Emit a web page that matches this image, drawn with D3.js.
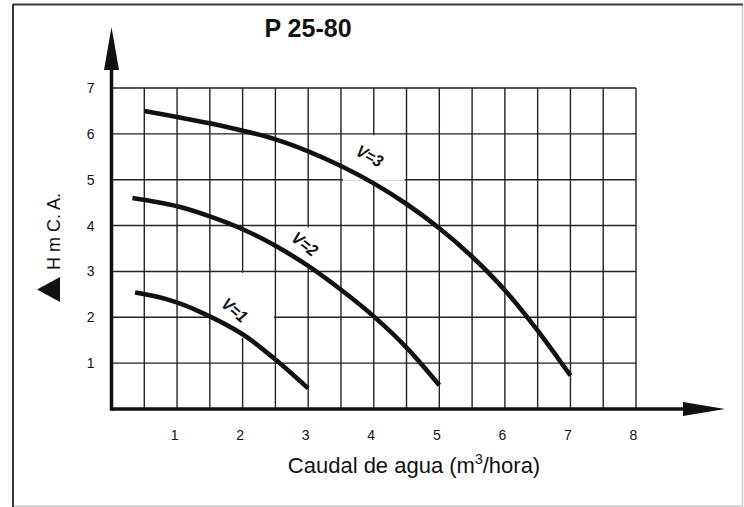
<!DOCTYPE html>
<html>
<head>
<meta charset="utf-8">
<script src="https://cdn.jsdelivr.net/npm/d3@7"></script>
<style>
  html, body { margin: 0; padding: 0; background: #fff; }
  svg { display: block; }
  text { font-family: "Liberation Sans", Arial, sans-serif; fill: #111; }
</style>
</head>
<body>
<svg id="chart" width="744" height="507"></svg>
<script>
// ---- data ----
const title = "P 25-80";
const yTitle = "H m C. A.";
const xTitleMain = "Caudal de agua (m";
const xTitleSup = "3";
const xTitleEnd = "/hora)";
const xTicks = [1, 2, 3, 4, 5, 6, 7, 8];
const yTicks = [1, 2, 3, 4, 5, 6, 7];
const gridX = [0.5, 1, 1.5, 2, 2.5, 3, 3.5, 4, 4.5, 5, 5.5, 6, 6.5, 7, 7.5, 8];
const gridY = [1, 2, 3, 4, 5, 6, 7];
const seriesNames = ["V=1", "V=2", "V=3"];
const v1 = [[0.36, 2.54], [0.85, 2.39], [1.35, 2.12], [2, 1.63], [2.5, 1.08], [3, 0.45]];
const v2 = [[0.32, 4.6], [1, 4.42], [1.5, 4.2], [2, 3.92], [2.5, 3.56], [3, 3.12], [3.5, 2.6], [4, 2.02], [4.5, 1.34], [5, 0.52]];
const v3 = [[0.5, 6.5], [1, 6.37], [1.5, 6.23], [2, 6.07], [2.5, 5.88], [3, 5.62], [3.5, 5.3], [4, 4.92], [4.5, 4.47], [5, 3.94], [5.5, 3.32], [6, 2.59], [6.5, 1.71], [7, 0.73]];

// ---- layout ----
const svg = d3.select("#chart");
const x = d3.scaleLinear().domain([0, 8]).range([111.5, 636]);
const y = d3.scaleLinear().domain([0, 7]).range([409, 88]);

// frame
svg.append("line").attr("x1", 742.5).attr("y1", 4.5).attr("x2", 742.5).attr("y2", 506).attr("stroke", "#c8c8c8").attr("stroke-width", 1.5);
svg.append("line").attr("x1", 13).attr("y1", 506).attr("x2", 743).attr("y2", 506).attr("stroke", "#c8c8c8").attr("stroke-width", 1.5);
svg.append("line").attr("x1", 13).attr("y1", 4.5).attr("x2", 743).attr("y2", 4.5).attr("stroke", "#3a3a3a").attr("stroke-width", 2);
svg.append("line").attr("x1", 13).attr("y1", 4).attr("x2", 13).attr("y2", 507).attr("stroke", "#3a3a3a").attr("stroke-width", 2);

// grid
const grid = svg.append("g").attr("stroke", "#222").attr("stroke-width", 1.4);
grid.selectAll("line.v").data(gridX).join("line").attr("class", "v")
  .attr("x1", d => x(d)).attr("x2", d => x(d)).attr("y1", y(0)).attr("y2", y(7));
grid.selectAll("line.h").data(gridY).join("line").attr("class", "h")
  .attr("x1", x(0)).attr("x2", x(8)).attr("y1", d => y(d)).attr("y2", d => y(d));

// label backgrounds (white patches under the curve labels)
const labels = [
  { name: seriesNames[2], at: [3.94, 5.52], rot: 29, box: [3.53, 4.47, 4.98, 5.97] },
  { name: seriesNames[1], at: [2.95, 3.6], rot: 38, box: [2.54, 3.46, 3.08, 3.96] },
  { name: seriesNames[0], at: [1.88, 2.16], rot: 40, box: [1.54, 2.48, 1.55, 2.97] }
];
svg.append("g").selectAll("rect").data(labels).join("rect")
  .attr("x", d => x(d.box[0])).attr("width", d => x(d.box[1]) - x(d.box[0]))
  .attr("y", d => y(d.box[3])).attr("height", d => y(d.box[2]) - y(d.box[3]))
  .attr("fill", "#fff");

// curves
const line = d3.line().x(d => x(d[0])).y(d => y(d[1])).curve(d3.curveCatmullRom.alpha(0.5));
svg.append("g").selectAll("path").data([v1, v2, v3]).join("path")
  .attr("d", line).attr("fill", "none").attr("stroke", "#111").attr("stroke-width", 4.6);

// curve labels
svg.append("g").selectAll("text").data(labels).join("text")
  .attr("transform", d => `translate(${x(d.at[0])},${y(d.at[1])}) rotate(${d.rot}) scale(0.9,1)`)
  .attr("text-anchor", "middle").attr("dy", "0.35em")
  .attr("font-size", 17).attr("font-weight", "bold").attr("font-style", "italic")
  .text(d => d.name);

// axes lines with arrows
svg.append("line").attr("x1", x(0)).attr("x2", 684).attr("y1", y(0)).attr("y2", y(0))
  .attr("stroke", "#111").attr("stroke-width", 3.5);
svg.append("path").attr("d", `M683,${y(0) - 7} L725,${y(0)} L683,${y(0) + 7} Z`).attr("fill", "#111");
svg.append("line").attr("x1", x(0)).attr("x2", x(0)).attr("y1", y(0) + 1.75).attr("y2", 68)
  .attr("stroke", "#111").attr("stroke-width", 3.5);
svg.append("path").attr("d", `M${x(0) - 7.5},70 L${x(0)},27 L${x(0) + 7.5},70 Z`).attr("fill", "#111");

// tick labels
const xAxis = svg.append("g").attr("transform", `translate(-3,${y(0)})`)
  .call(d3.axisBottom(x).tickValues(xTicks).tickSize(0).tickPadding(21).tickFormat(d3.format("d")));
xAxis.select(".domain").remove();
xAxis.selectAll("text").attr("font-size", 14).attr("font-family", "Liberation Sans, Arial, sans-serif").attr("fill", "#111");

const yAxis = svg.append("g").attr("transform", `translate(${x(0)},0)`)
  .call(d3.axisLeft(y).tickValues(yTicks).tickSize(0).tickPadding(17).tickFormat(d3.format("d")));
yAxis.select(".domain").remove();
yAxis.selectAll("text").attr("font-size", 14).attr("font-family", "Liberation Sans, Arial, sans-serif").attr("fill", "#111");

// title
svg.append("text").attr("x", 308).attr("y", 37).attr("text-anchor", "middle")
  .attr("font-size", 25).attr("font-weight", "bold").text(title);

// y title with triangle
svg.append("text").attr("transform", "translate(60,270) rotate(-90)")
  .attr("font-size", 18).text(yTitle);
svg.append("path").attr("d", "M60,277 L60,302 L37,289.5 Z").attr("fill", "#111");

// x title
const xt = svg.append("text").attr("x", 414).attr("y", 473).attr("text-anchor", "middle").attr("font-size", 22);
xt.append("tspan").text(xTitleMain);
xt.append("tspan").attr("font-size", 14).attr("dy", -9).text(xTitleSup);
xt.append("tspan").attr("dy", 9).text(xTitleEnd);
</script>
</body>
</html>
